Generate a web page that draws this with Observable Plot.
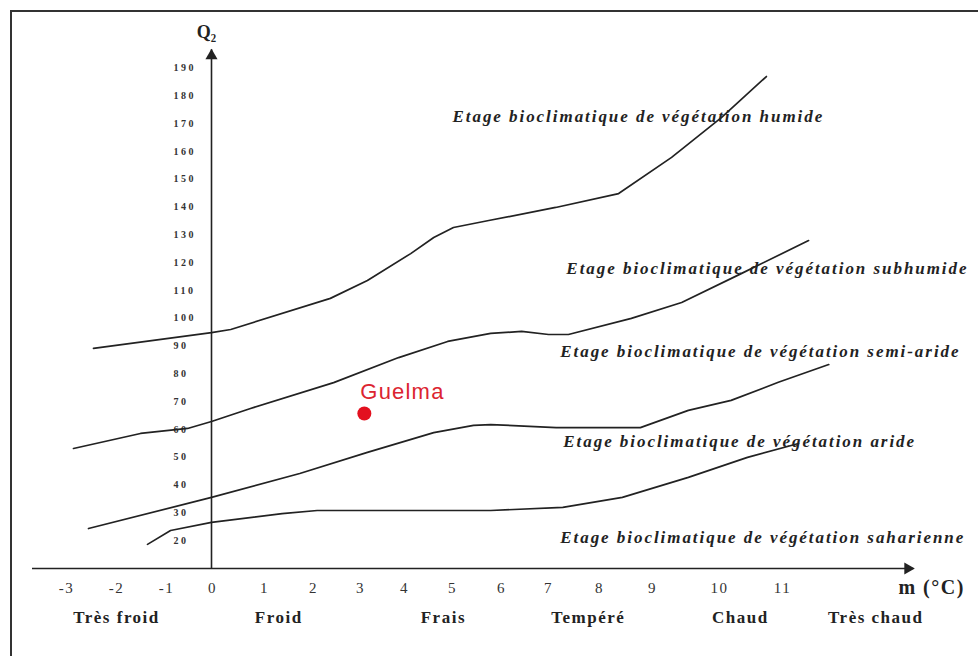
<!DOCTYPE html>
<html>
<head>
<meta charset="utf-8">
<script src="https://cdn.jsdelivr.net/npm/d3@7"></script>
<script src="https://cdn.jsdelivr.net/npm/@observablehq/plot@0.6"></script>
<style>
html, body { margin: 0; padding: 0; background: #fff; overflow: hidden; }
#wrap { position: relative; width: 978px; height: 656px; }
#wrap svg { display: block; }
#border { position: absolute; left: 10px; top: 10px; width: 1000px; height: 700px;
  border-left: 2.5px solid #333; border-top: 2.5px solid #333; pointer-events: none; }
</style>
</head>
<body>
<div id="wrap"><div id="border"></div></div>
<script>
// ---- Tick labels ----
const xTicks = [-3, -2, -1, 0, 1, 2, 3, 4, 5, 6, 7, 8, 9, 10, 11];
const yTicks = [20, 30, 40, 50, 60, 70, 80, 90, 100, 110, 120, 130, 140, 150, 160, 170, 180, 190];

// ---- Boundary curves (m in °C, Q2) ----
const humideM = [-2.44, 0, 0.37, 2.38, 3.18, 4.15, 4.63, 5.04, 5.76, 7.16, 8.38, 9.3, 10.05, 10.76];
const humideQ2 = [89.1, 94.8, 95.9, 107.1, 113.5, 123.2, 129.0, 132.6, 135.1, 139.8, 144.8, 157.8, 172.2, 186.9];

const subhumideM = [-2.84, -1.5, -0.52, 0, 0.75, 2.45, 3.89, 4.92, 5.8, 6.45, 7.02, 7.41, 8.62, 9.45, 10.36, 11.43];
const subhumideQ2 = [53.1, 58.5, 60.3, 62.8, 67.5, 76.8, 85.8, 91.6, 94.5, 95.2, 94.1, 94.1, 99.9, 105.6, 116.0, 127.9];

const semiAridM = [-2.54, 0, 1.74, 3.18, 4.63, 5.45, 5.8, 7.17, 8.79, 9.55, 10.2, 10.95, 11.75];
const semiAridQ2 = [24.3, 35.5, 44.1, 51.7, 58.8, 61.4, 61.7, 60.6, 60.6, 66.8, 70.4, 76.9, 83.3];

const aridM = [-1.36, -0.89, 0, 1.38, 2.1, 5.8, 7.3, 8.45, 9.55, 10.46, 11.27];
const aridQ2 = [18.6, 23.6, 26.5, 29.7, 30.8, 30.8, 31.9, 35.5, 42.7, 49.9, 54.9];

// ---- Zone labels ----
const zoneNames = [
  "Etage bioclimatique de végétation humide",
  "Etage bioclimatique de végétation subhumide",
  "Etage bioclimatique de végétation semi-aride",
  "Etage bioclimatique de végétation aride",
  "Etage bioclimatique de végétation saharienne"
];
const zoneM = [5.02, 7.37, 7.25, 7.31, 7.25];
const zoneQ2 = [172.5, 117.8, 88.0, 55.6, 21.1];

// ---- Thermal variants ----
const thermNames = ["Très froid", "Froid", "Frais", "Tempéré", "Chaud", "Très chaud"];
const thermM = [-2.0, 1.29, 4.81, 7.78, 10.33, 12.48];

// ---- Station ----
const stationName = ["Guelma"];
const stationM = [3.11];
const stationQ2 = [65.7];

// ---- Axis extents (data units) ----
const axisMMin = -3.66, axisMMax = 13.1;
const axisQ2Base = 9.93, axisQ2Top = 196.5;

// build tables
function curve(name, ms, qs) { return ms.map((m, i) => ({zone: name, m, q2: qs[i]})); }
const curves = [
  ...curve("humide", humideM, humideQ2),
  ...curve("subhumide", subhumideM, subhumideQ2),
  ...curve("semi-aride", semiAridM, semiAridQ2),
  ...curve("aride", aridM, aridQ2)
];
const zones = zoneNames.map((t, i) => ({t, m: zoneM[i], q2: zoneQ2[i]}));
const therm = thermNames.map((t, i) => ({t, m: thermM[i]}));
const station = stationName.map((t, i) => ({t, m: stationM[i], q2: stationQ2[i]}));

// The hand-drawn m axis has uneven graduations: a piecewise-linear transform
// maps each m value between its neighbouring graduations.
const mGraduation = d3.scaleLinear()
  .domain(xTicks)
  .range([65, 115, 165, 211, 263, 312, 359, 403, 451, 500, 547, 598, 651, 718, 781]);

const ink = "#222";
const serif = "Liberation Serif, Times New Roman, serif";

const chart = Plot.plot({
  width: 978,
  height: 656,
  marginTop: 0, marginRight: 0, marginBottom: 0, marginLeft: 0,
  style: {background: "transparent", fontFamily: serif, overflow: "visible"},
  x: {transform: mGraduation, domain: [0, 978], range: [0, 978], axis: null},
  y: {domain: [0, 200], range: [595.6, 39.6], axis: null},
  marks: [
    // axes
    Plot.ruleX([0], {y1: axisQ2Base, y2: axisQ2Top, stroke: ink, strokeWidth: 1.6}),
    Plot.ruleY([axisQ2Base], {x1: axisMMin, x2: axisMMax, stroke: ink, strokeWidth: 1.6}),
    Plot.dot([0], {x: 0, y: axisQ2Top, symbol: "triangle", r: 4.5, fill: ink, stroke: null, dy: 6}),
    Plot.dot([0], {x: axisMMax, y: axisQ2Base, symbol: "triangle", rotate: 90, r: 4.5, fill: ink, stroke: null, dx: -6}),
    Plot.text(["Q₂"], {x: 0, y: axisQ2Top, dy: -18, dx: -5, text: d => d, fontSize: 18, fontWeight: "bold", fill: ink}),
    Plot.text(["m (°C)"], {x: axisMMax, y: axisQ2Base, dx: 51, dy: 19, text: d => d, textAnchor: "end",
      fontSize: 20, fontWeight: "bold", fill: ink}),
    // tick labels
    Plot.text(yTicks, {x: 0, y: d => d, dx: -38, text: d => String(d), textAnchor: "start",
      fontSize: 10, fontWeight: "bold", fill: "#333"}),
    Plot.text(xTicks, {x: d => d, y: axisQ2Base, dy: 20, dx: 1, text: d => String(d), fontSize: 15,
      fill: "#333"}),
    Plot.text(therm, {x: "m", y: axisQ2Base, dy: 49, dx: 1, text: "t", fontSize: 17, fontWeight: "bold",
      fill: ink}),
    // boundary curves
    Plot.line(curves, {x: "m", y: "q2", z: "zone", stroke: ink, strokeWidth: 1.7, curve: "linear"}),
    // zone labels
    Plot.text(zones, {x: "m", y: "q2", text: "t", textAnchor: "start", fontSize: 17, fontStyle: "italic",
      fontWeight: "bold", fill: ink}),
    // station
    Plot.dot(station, {x: "m", y: "q2", r: 7, fill: "#e3101f", stroke: null}),
    Plot.text(station, {x: "m", y: "q2", text: "t", dx: -4, dy: -22, textAnchor: "start",
      fontFamily: "Liberation Sans, Arial, sans-serif", fontSize: 22, fill: "#dc2430"})
  ]
});

// letter spacing of the original typesetting
function spaceOut(labels, px) {
  const set = new Set(labels.map(String));
  d3.select(chart).selectAll("text")
    .filter(function() { return set.has(this.textContent); })
    .style("letter-spacing", px + "px");
}
spaceOut(zoneNames, 1.95);
spaceOut(thermNames, 1.5);
spaceOut(xTicks, 1.5);
spaceOut(yTicks, 2.5);
spaceOut(["m (°C)"], 1.5);
spaceOut(stationName, 1.2);

document.getElementById("wrap").prepend(chart);
</script>
</body>
</html>
